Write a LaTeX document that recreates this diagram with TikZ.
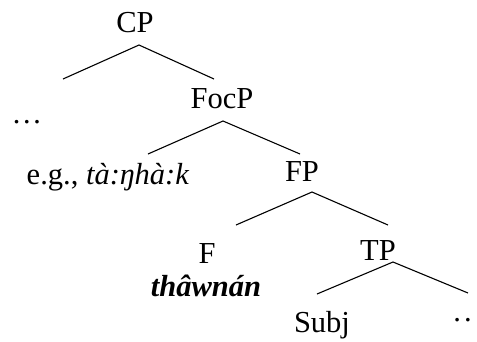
\documentclass[tikz,border=0pt]{standalone}
\usepackage{fontspec}
\setmainfont{Liberation Serif}
\begin{document}
\begin{tikzpicture}[x=1pt,y=-1pt,
  lbl/.style={anchor=base,inner sep=0pt,font=\fontsize{30.5}{36}\selectfont},
  branch/.style={line width=1.1pt}]
\useasboundingbox (0,0) rectangle (477,341);
% labels
\node[lbl] (cp) at (135,32) {CP};
\node[lbl] (focp) at (222,108) {FocP};
\node[lbl] (dots1) at (27,123) {…};
\node[lbl] (eg) at (108,184) {e.g., \textit{tà:ŋhà:k}};
\node[lbl] (fp) at (302,181) {FP};
\node[lbl] (f) at (207,263) {F};
\node[lbl] (thw) at (206,296) {\textbf{\textit{thâwnán}}};
\node[lbl] (tp) at (378,260) {TP};
\node[lbl] (subj) at (322,332) {Subj};
\node[lbl] (dots2) at (462.5,321) {.\kern3.2pt.};
% branch points
\coordinate (cpA) at (139,45);
\coordinate (cpL) at (63,79);
\coordinate (cpR) at (214,79);
\coordinate (focA) at (223,121);
\coordinate (focL) at (148,154);
\coordinate (focR) at (300,154);
\coordinate (fpA) at (312,192);
\coordinate (fpL) at (236,225);
\coordinate (fpR) at (388,225);
\coordinate (tpA) at (393,262);
\coordinate (tpL) at (317,294);
\coordinate (tpR) at (468,293);
\draw[branch] (cpL) -- (cpA) -- (cpR);
\draw[branch] (focL) -- (focA) -- (focR);
\draw[branch] (fpL) -- (fpA) -- (fpR);
\draw[branch] (tpL) -- (tpA) -- (tpR);
\end{tikzpicture}
\end{document}
